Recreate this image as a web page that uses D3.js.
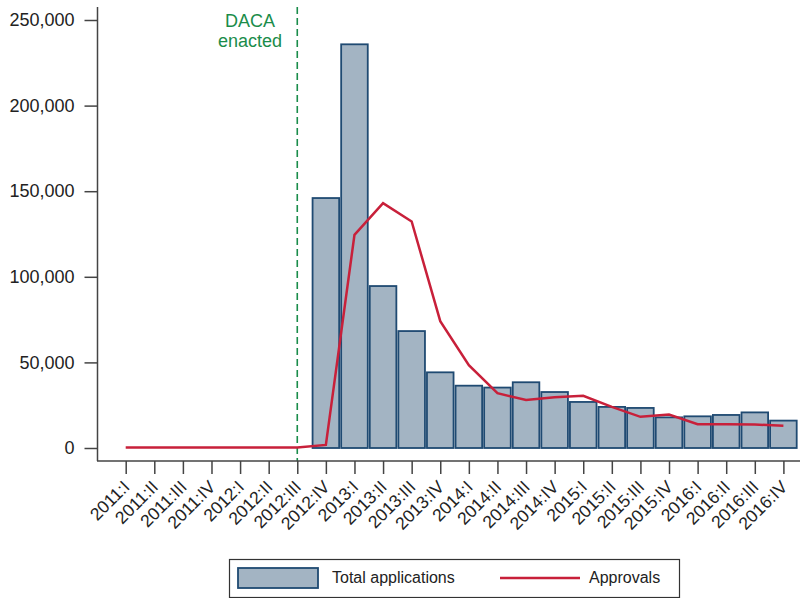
<!DOCTYPE html>
<html>
<head>
<meta charset="utf-8">
<script src="https://cdn.jsdelivr.net/npm/d3@7"></script>
<style>
  html, body { margin: 0; padding: 0; background: #fff; }
  svg { display: block; font-family: "Liberation Sans", Arial, Helvetica, sans-serif; }
</style>
</head>
<body>
<svg id="chart" width="800" height="598"></svg>
<script>
const quarters = ["2011:I","2011:II","2011:III","2011:IV","2012:I","2012:II","2012:III","2012:IV",
  "2013:I","2013:II","2013:III","2013:IV","2014:I","2014:II","2014:III","2014:IV",
  "2015:I","2015:II","2015:III","2015:IV","2016:I","2016:II","2016:III","2016:IV"];
// Total applications (null = no bar)
const applications = [null,null,null,null,null,null,null,146000,
  235800,94600,68300,44200,36400,35300,38400,32700,
  26900,24000,23400,17900,18500,19300,20800,16000];
// Approvals
const approvals = [0,0,0,0,0,0,0,1500,
  124200,142700,132000,73800,48100,31700,27800,29400,
  30200,23700,17900,19300,13600,13600,13400,12700];
const yTicks = [0,50000,100000,150000,200000,250000];
const dacaQuarter = "2012:III";
const legendLabels = ["Total applications","Approvals"];

const svg = d3.select("#chart");
const barFill = "#a3b4c3", barStroke = "#1f4a72", lineColor = "#c8203a", green = "#1a8c4a", axisColor = "#444";

const x = d3.scalePoint().domain(quarters).range([125.7, 783.4]);
const step = x.step();
const y = d3.scaleLinear().domain([0, 250000]).range([448, 20]);

// bars
svg.append("g").selectAll("rect")
  .data(quarters.map((q,i)=>({q, v: applications[i]})).filter(d=>d.v!=null))
  .join("rect")
  .attr("x", d => x(d.q) - step/2 + 1)
  .attr("width", step - 2)
  .attr("y", d => y(d.v))
  .attr("height", d => y(0) - y(d.v))
  .attr("fill", barFill)
  .attr("stroke", barStroke)
  .attr("stroke-width", 1.8);

// DACA line
svg.append("line")
  .attr("x1", x(dacaQuarter)).attr("x2", x(dacaQuarter))
  .attr("y1", 7).attr("y2", 461)
  .attr("stroke", green).attr("stroke-width", 1.6)
  .attr("stroke-dasharray", "7,4");
svg.append("text").attr("x", 250).attr("y", 27).attr("text-anchor","middle")
  .attr("fill", green).attr("font-size", 18).text("DACA");
svg.append("text").attr("x", 250).attr("y", 47).attr("text-anchor","middle")
  .attr("fill", green).attr("font-size", 18).text("enacted");

// approvals line
const line = d3.line().x((d,i)=>x(quarters[i])).y(d=>y(d) - 0.5);
svg.append("path").datum(approvals)
  .attr("d", line).attr("fill","none")
  .attr("stroke", lineColor).attr("stroke-width", 2.5).attr("stroke-linejoin","miter");

// y axis
const yAxis = svg.append("g").attr("transform","translate(97.5,0)")
  .call(d3.axisLeft(y).tickValues(yTicks).tickFormat(d3.format(",")).tickSize(13).tickPadding(10));
yAxis.select(".domain").attr("d", "M0,7V461");
// x axis
const xAxis = svg.append("g").attr("transform","translate(0,461)")
  .call(d3.axisBottom(x).tickSize(13).tickFormat(""));
xAxis.select(".domain").attr("d", "M97,0H800");
[yAxis, xAxis].forEach(g => {
  g.selectAll(".domain").attr("stroke", axisColor).attr("stroke-width", 1.5);
  g.selectAll(".tick line").attr("stroke", axisColor).attr("stroke-width", 1.5);
});
yAxis.selectAll(".tick text").attr("font-size", 18).attr("fill", "#222")
  .attr("font-family", "Liberation Sans, Arial, sans-serif");

// rotated x labels
svg.append("g").selectAll("text").data(quarters).join("text")
  .attr("transform", d => `translate(${x(d)+5},${488}) rotate(-45)`)
  .attr("text-anchor", "end")
  .attr("font-size", 17.5)
  .attr("fill", "#222")
  .text(d => d);

// legend
const lg = svg.append("g");
lg.append("rect").attr("x", 229.5).attr("y", 559.5).attr("width", 450).attr("height", 38)
  .attr("fill", "#fff").attr("stroke", "#333").attr("stroke-width", 1.2);
lg.append("rect").attr("x", 238).attr("y", 568).attr("width", 80).attr("height", 20)
  .attr("fill", barFill).attr("stroke", barStroke).attr("stroke-width", 1.8);
lg.append("text").attr("x", 332).attr("y", 583).attr("font-size", 16).attr("fill","#222").text(legendLabels[0]);
lg.append("line").attr("x1", 500).attr("x2", 580).attr("y1", 578).attr("y2", 578)
  .attr("stroke", lineColor).attr("stroke-width", 2.5);
lg.append("text").attr("x", 589).attr("y", 583).attr("font-size", 16).attr("fill","#222").text(legendLabels[1]);
</script>
</body>
</html>
